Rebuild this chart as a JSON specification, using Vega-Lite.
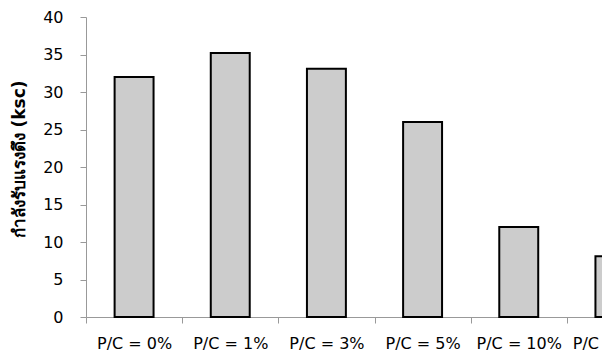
{
  "$schema": "https://vega.github.io/schema/vega-lite/v6.json",
  "autosize": {"type": "none"},
  "padding": {"left": 86, "top": 17, "right": 0, "bottom": 44},
  "width": 516,
  "height": 300,
  "background": "white",
  "config": {"view": {"stroke": null}, "font": "DejaVu Sans"},
  "data": {"values": [
    {"mix": "P/C = 0%", "strength": 32.0},
    {"mix": "P/C = 1%", "strength": 35.2},
    {"mix": "P/C = 3%", "strength": 33.1},
    {"mix": "P/C = 5%", "strength": 26.0},
    {"mix": "P/C = 10%", "strength": 12.0},
    {"mix": "P/C = 15%", "strength": 8.1}
  ]},
  "mark": {"type": "bar", "width": {"band": 0.405}, "fill": "#cccccc", "stroke": "black", "strokeWidth": 2},
  "encoding": {
    "x": {"field": "mix", "type": "nominal", "sort": null,
      "scale": {"range": [0, 577], "paddingInner": 0, "paddingOuter": 0},
      "axis": {"title": null, "labelAngle": 0, "tickBand": "extent", "domainColor": "#999999", "tickColor": "#999999", "tickSize": 6, "labelPadding": 12, "labelFontSize": 16, "labelColor": "black", "labelFont": "DejaVu Sans"}},
    "y": {"field": "strength", "type": "quantitative",
      "scale": {"domain": [0, 40], "nice": false},
      "axis": {"values": [0, 5, 10, 15, 20, 25, 30, 35, 40], "grid": false, "domainColor": "#999999", "tickColor": "#999999", "tickSize": 6, "labelPadding": 17, "labelFontSize": 16, "labelColor": "black", "labelFont": "DejaVu Sans",
        "title": "กำลังรับแรงดึง (ksc)", "titleFontSize": 17, "titleFontWeight": "bold", "titleColor": "black", "titlePadding": 14, "titleY": 142}}
  }
}
